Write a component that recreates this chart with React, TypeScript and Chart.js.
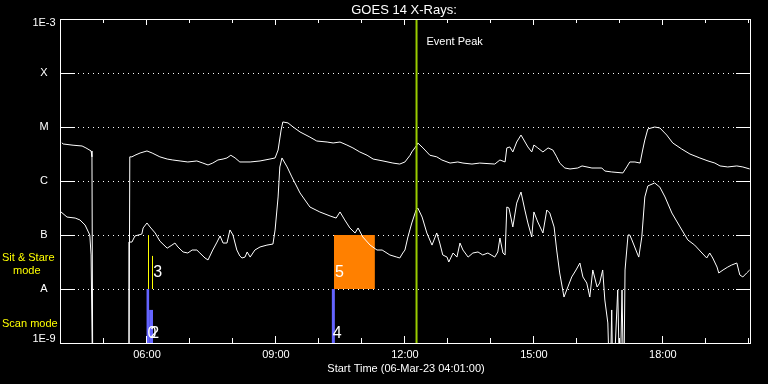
import { useEffect, useRef } from "react";
import { Chart, registerables } from "chart.js";
Chart.register(...registerables);

// [hour of 06-Mar-23, flux W/m^2]  (1e-10 = data gap / below scale)
const longChannel: [number, number][] = [
  [4.02, 5.1e-6], [4.05, 4.85e-6], [4.28, 4.6e-6], [4.49, 4.45e-6], [4.58, 4.1e-6], [4.70, 3.6e-6], [4.72, 2.8e-6],
  [4.74, 1e-10], [5.58, 1e-10], [5.60, 2.8e-6], [5.65, 2.8e-6], [5.72, 3.0e-6], [5.84, 3.3e-6], [6.00, 3.6e-6],
  [6.12, 3.3e-6], [6.30, 2.8e-6], [6.47, 2.55e-6], [6.60, 2.45e-6], [6.77, 2.35e-6], [6.95, 2.25e-6], [7.16, 2.35e-6],
  [7.30, 2.15e-6], [7.42, 1.98e-6], [7.53, 2.15e-6], [7.65, 2.45e-6], [7.77, 2.55e-6], [7.86, 2.67e-6], [7.95, 3.0e-6],
  [8.05, 2.67e-6], [8.16, 2.25e-6], [8.40, 2.25e-6], [8.63, 2.35e-6], [8.86, 2.55e-6], [8.98, 2.67e-6], [9.05, 3.75e-6],
  [9.12, 8.8e-6], [9.16, 1.24e-5], [9.28, 1.19e-5], [9.40, 1.0e-5], [9.56, 8.1e-6], [9.79, 6.5e-6], [9.95, 5.5e-6],
  [10.19, 5.27e-6], [10.33, 5.06e-6], [10.49, 5.27e-6], [10.65, 4.64e-6], [10.79, 4.1e-6], [10.95, 3.45e-6],
  [11.12, 3.0e-6], [11.26, 2.55e-6], [11.49, 2.35e-6], [11.72, 2.15e-6], [11.88, 2.06e-6], [12.00, 2.25e-6],
  [12.12, 3.0e-6], [12.16, 3.45e-6], [12.28, 4.64e-6], [12.30, 5.06e-6], [12.42, 4.1e-6], [12.58, 3.0e-6],
  [12.74, 2.8e-6], [12.86, 2.45e-6], [13.05, 2.15e-6], [13.23, 2.25e-6], [13.35, 2.15e-6], [13.56, 2.06e-6],
  [13.74, 2.15e-6], [14.09, 2.06e-6], [14.21, 2.45e-6], [14.33, 2.25e-6], [14.37, 4.1e-6], [14.44, 4.27e-6],
  [14.51, 3.45e-6], [14.60, 5.27e-6], [14.70, 7.1e-6], [14.74, 6.25e-6], [14.86, 4.27e-6], [14.95, 3.45e-6],
  [15.00, 4.64e-6], [15.09, 4.1e-6], [15.21, 3.45e-6], [15.33, 4.1e-6], [15.44, 3.75e-6], [15.53, 2.8e-6],
  [15.60, 2.15e-6], [15.72, 1.74e-6], [15.84, 1.67e-6], [16.02, 1.74e-6], [16.12, 1.9e-6], [16.35, 1.74e-6],
  [16.58, 1.74e-6], [16.65, 1.53e-6], [16.81, 1.47e-6], [17.07, 1.41e-6], [17.16, 1.82e-6], [17.23, 2.25e-6],
  [17.35, 2.25e-6], [17.47, 2.15e-6], [17.53, 3.75e-6], [17.58, 5.74e-6], [17.65, 9.2e-6], [17.81, 1.0e-5],
  [17.93, 9.6e-6], [18.09, 7.1e-6], [18.23, 5.06e-6], [18.44, 3.9e-6], [18.63, 3.16e-6], [18.86, 2.67e-6],
  [19.05, 2.35e-6], [19.21, 2.15e-6], [19.33, 1.9e-6], [19.51, 1.82e-6], [19.72, 1.9e-6], [19.86, 1.82e-6],
  [20.02, 1.67e-6],
];

const shortChannel: [number, number][] = [
  [4.00, 2.67e-7], [4.14, 2.15e-7], [4.33, 2.06e-7], [4.44, 1.9e-7], [4.56, 1.53e-7], [4.67, 1.0e-7], [4.70, 4.27e-8],
  [4.74, 1e-10], [5.56, 1e-10], [5.58, 7.4e-8], [5.65, 7.4e-8], [5.72, 9.6e-8], [5.88, 1.04e-7], [5.91, 1.35e-7],
  [6.00, 1.67e-7], [6.07, 1.41e-7], [6.19, 1.09e-7], [6.30, 7.7e-8], [6.47, 5.7e-8], [6.58, 6.5e-8], [6.65, 7.1e-8],
  [6.72, 6.0e-8], [6.84, 4.85e-8], [6.95, 4.64e-8], [7.05, 5.27e-8], [7.16, 5.27e-8], [7.23, 4.64e-8], [7.35, 3.75e-8],
  [7.42, 3.45e-8], [7.53, 5.27e-8], [7.63, 7.4e-8], [7.70, 9.6e-8], [7.77, 7.1e-8], [7.86, 7.1e-8], [7.93, 1.24e-7],
  [8.00, 1.0e-7], [8.09, 5.27e-8], [8.16, 4.09e-8], [8.21, 3.75e-8], [8.28, 3.9e-8], [8.33, 4.85e-8], [8.40, 3.9e-8],
  [8.51, 5.27e-8], [8.63, 6.0e-8], [8.79, 6.5e-8], [8.93, 6.8e-8], [8.98, 1.24e-7], [9.05, 5.06e-7], [9.09, 1.82e-6],
  [9.14, 2.67e-6], [9.26, 1.82e-6], [9.37, 1.19e-6], [9.56, 6.0e-7], [9.79, 3.3e-7], [10.02, 2.67e-7], [10.26, 2.25e-7],
  [10.40, 2.06e-7], [10.49, 2.67e-7], [10.60, 1.9e-7], [10.72, 1.35e-7], [10.84, 1.09e-7], [10.91, 1.35e-7],
  [11.02, 9.2e-8], [11.19, 6.5e-8], [11.35, 5.27e-8], [11.47, 5.27e-8], [11.65, 4.27e-8], [11.81, 3.9e-8],
  [11.88, 3.75e-8], [11.95, 4.64e-8], [12.00, 5.27e-8], [12.07, 9.2e-8], [12.16, 1.67e-7], [12.26, 2.9e-7],
  [12.30, 3.16e-7], [12.40, 2.15e-7], [12.51, 1.09e-7], [12.63, 6.5e-8], [12.74, 1.09e-7], [12.81, 7.1e-8],
  [12.88, 4.27e-8], [12.98, 3.9e-8], [13.02, 3.16e-8], [13.12, 4.64e-8], [13.21, 3.9e-8], [13.28, 7.1e-8],
  [13.35, 5.27e-8], [13.47, 3.9e-8], [13.58, 4.64e-8], [13.70, 4.85e-8], [13.81, 4.27e-8], [13.93, 4.64e-8],
  [14.09, 3.9e-8], [14.16, 4.85e-8], [14.21, 8.8e-8], [14.28, 4.64e-8], [14.33, 4.27e-8], [14.37, 3.3e-7],
  [14.42, 3.16e-7], [14.51, 1.41e-7], [14.60, 3.9e-7], [14.70, 6.25e-7], [14.79, 2.9e-7], [14.86, 1.67e-7],
  [14.95, 9.2e-8], [15.00, 2.67e-7], [15.09, 1.74e-7], [15.21, 1.09e-7], [15.30, 2.9e-7], [15.37, 2.55e-7],
  [15.47, 1.41e-7], [15.53, 5.27e-8], [15.60, 1.98e-8], [15.70, 7.1e-9], [15.79, 1.09e-8], [15.88, 1.67e-8],
  [15.98, 2.25e-8], [16.07, 3.03e-8], [16.14, 1.67e-8], [16.23, 1.29e-8], [16.30, 7.1e-9], [16.37, 2.25e-8],
  [16.47, 1.09e-8], [16.53, 1.29e-8], [16.60, 2.25e-8], [16.65, 6.25e-9], [16.72, 2.35e-9], [16.77, 1e-10],
  [16.81, 4.09e-9], [16.84, 1e-10], [16.95, 9.6e-9], [17.00, 1e-10], [17.05, 9.6e-9], [17.09, 1e-10],
  [17.12, 2.25e-8], [17.19, 1.0e-7], [17.23, 1.0e-7], [17.28, 8.1e-8], [17.40, 4.64e-8], [17.44, 3.9e-8],
  [17.51, 9.2e-8], [17.58, 5.06e-7], [17.65, 8.1e-7], [17.81, 9.2e-7], [17.93, 7.7e-7], [18.05, 5.06e-7],
  [18.21, 2.55e-7], [18.40, 1.41e-7], [18.58, 8.1e-8], [18.74, 6.5e-8], [18.91, 4.64e-8], [19.02, 3.75e-8],
  [19.09, 4.64e-8], [19.16, 3.75e-8], [19.26, 2.55e-8], [19.30, 1.98e-8], [19.40, 2.25e-8], [19.51, 2.55e-8],
  [19.60, 2.78e-8], [19.72, 3.03e-8], [19.79, 1.82e-8], [19.86, 1.67e-8], [19.95, 1.98e-8], [20.02, 2.25e-8],
];

const xMin = 4.0;
const xMax = 20.05;
const hourTicks = [5, 6, 7, 8, 9, 10, 11, 12, 13, 14, 15, 16, 17, 18, 19, 20];
const xLabelHours = [6, 9, 12, 15, 18];
const xLabels = ["06:00", "09:00", "12:00", "15:00", "18:00"];
const yTickValues = [1e-9, 1e-8, 1e-7, 1e-6, 1e-5, 1e-4, 1e-3];
const yTickLabels = ["1E-9", "A", "B", "C", "M", "X", "1E-3"];

const eventPeakHour = 12.27;

// Sit & Stare observations (between A and B levels)
const sitStart = [6.02, 6.12, 10.35];
const sitEnd = [6.02, 6.12, 11.30];
const sitTop = [1e-7, 4.1e-8, 1e-7];
const sitLabels = ["", "3", "5"];
// Scan observations (between 1E-9 and A levels)
const scanStart = [5.99, 6.05, 10.30];
const scanEnd = [6.05, 6.14, 10.37];
const scanTop = [1e-8, 4.1e-9, 1e-8];
const scanLabels = ["0", "2", "4"];

const FONT = '"Liberation Sans", Arial, sans-serif';

const decorPlugin = {
  id: "decor",
  beforeDraw(chart: any) {
    const { ctx, width, height } = chart;
    ctx.save();
    ctx.fillStyle = "#000";
    ctx.fillRect(0, 0, width, height);
    ctx.restore();
  },
  beforeDatasetsDraw(chart: any) {
    const { ctx, chartArea, scales } = chart;
    const { left, right } = chartArea;
    const x = scales.x;
    const y = scales.y;
    ctx.save();
    ctx.strokeStyle = "#fff";
    ctx.lineWidth = 1;
    yTickValues.forEach((v, i) => {
      if (i === 0 || i === yTickValues.length - 1) return;
      const py = Math.round(y.getPixelForValue(v)) + 0.5;
      ctx.setLineDash([]);
      ctx.beginPath();
      ctx.moveTo(left, py);
      ctx.lineTo(left + 14, py);
      ctx.moveTo(right - 15, py);
      ctx.lineTo(right, py);
      ctx.stroke();
      ctx.setLineDash([1, 4]);
      ctx.beginPath();
      ctx.moveTo(left + 17, py);
      ctx.lineTo(right - 15, py);
      ctx.stroke();
    });
    ctx.setLineDash([]);
    // sit & stare
    sitStart.forEach((s, i) => {
      const x0 = x.getPixelForValue(s);
      const x1 = x.getPixelForValue(sitEnd[i]);
      const yb = y.getPixelForValue(1e-8);
      const yt = y.getPixelForValue(sitTop[i]);
      if (x1 - x0 < 1) {
        ctx.strokeStyle = "#ffff00";
        ctx.lineWidth = 1;
        ctx.beginPath();
        ctx.moveTo(Math.round(x0) + 0.5, yb);
        ctx.lineTo(Math.round(x0) + 0.5, yt);
        ctx.stroke();
      } else {
        ctx.fillStyle = "#ff8000";
        ctx.fillRect(x0, yt, x1 - x0, yb - yt);
      }
    });
    // scans
    scanStart.forEach((s, i) => {
      const x0 = x.getPixelForValue(s);
      const x1 = x.getPixelForValue(scanEnd[i]);
      const yb = y.getPixelForValue(1e-9);
      const yt = y.getPixelForValue(scanTop[i]);
      ctx.fillStyle = "#6464ff";
      ctx.fillRect(x0, yt, x1 - x0, yb - yt);
    });
    ctx.restore();
  },
  afterDatasetsDraw(chart: any) {
    const { ctx, chartArea, scales } = chart;
    const { left, right, top, bottom } = chartArea;
    const x = scales.x;
    const y = scales.y;
    ctx.save();
    // event peak
    const px = x.getPixelForValue(eventPeakHour);
    ctx.strokeStyle = "#99cc00";
    ctx.lineWidth = 2;
    ctx.beginPath();
    ctx.moveTo(px, top);
    ctx.lineTo(px, bottom);
    ctx.stroke();
    // frame
    ctx.strokeStyle = "#fff";
    ctx.lineWidth = 1;
    ctx.strokeRect(left - 0.5, top + 0.5, right - left, bottom - top);
    // hour ticks
    hourTicks.forEach((h) => {
      const tx = Math.round(x.getPixelForValue(h)) - 0.5;
      const major = xLabelHours.includes(h);
      ctx.beginPath();
      ctx.moveTo(tx, bottom);
      ctx.lineTo(tx, bottom - (major ? 7 : 5));
      ctx.moveTo(tx, top);
      ctx.lineTo(tx, top + (major ? 6 : 4));
      ctx.stroke();
    });
    // labels on observations
    ctx.fillStyle = "#fff";
    ctx.font = `16px ${FONT}`;
    ctx.textAlign = "left";
    ctx.textBaseline = "middle";
    sitLabels.forEach((lab, i) => {
      if (!lab) return;
      ctx.fillText(lab, x.getPixelForValue(sitStart[i]) + 1, y.getPixelForValue(2e-8));
    });
    scanLabels.forEach((lab, i) => {
      if (!lab) return;
      ctx.fillText(lab, x.getPixelForValue(scanStart[i]) + 1, y.getPixelForValue(1.5e-9));
    });
    // y labels
    ctx.font = `11px ${FONT}`;
    ctx.textAlign = "center";
    yTickValues.forEach((v, i) => {
      let py = y.getPixelForValue(v);
      py = Math.min(Math.max(py, top + 4), bottom - 4);
      ctx.fillText(yTickLabels[i], 44, py);
    });
    // x labels
    xLabelHours.forEach((h, i) => {
      ctx.fillText(xLabels[i], x.getPixelForValue(h), bottom + 12);
    });
    const cx = (left + right) / 2;
    ctx.fillText("Start Time (06-Mar-23 04:01:00)", cx, bottom + 25.5);
    ctx.font = `13px ${FONT}`;
    ctx.fillText("GOES 14 X-Rays:", cx - 2, 10);
    ctx.font = `11px ${FONT}`;
    ctx.textAlign = "left";
    ctx.fillText("Event Peak", px + 10, top + 23);
    // mode labels
    ctx.fillStyle = "#ffff00";
    ctx.fillText("Sit & Stare", 2, 258);
    ctx.fillText("mode", 13, 271);
    ctx.fillText("Scan mode", 2, 323.5);
    ctx.restore();
  },
};

export default function App() {
  const ref = useRef<HTMLCanvasElement | null>(null);
  useEffect(() => {
    document.body.style.margin = "0";
    document.body.style.background = "#000";
    const canvas = ref.current;
    if (!canvas) return;
    const toPts = (arr: [number, number][]) => arr.map(([h, f]) => ({ x: h, y: f }));
    const chart = new Chart(canvas, {
      type: "line",
      data: {
        datasets: [
          { data: toPts(longChannel), borderColor: "#ffffff", borderWidth: 1, pointRadius: 0, tension: 0 },
          { data: toPts(shortChannel), borderColor: "#ffffff", borderWidth: 1, pointRadius: 0, tension: 0 },
        ],
      },
      options: {
        animation: false,
        responsive: false,
        maintainAspectRatio: false,
        devicePixelRatio: 1,
        layout: { padding: { left: 61, right: 17, top: 19, bottom: 41 } },
        plugins: { legend: { display: false }, tooltip: { enabled: false }, title: { display: false } },
        scales: {
          x: { type: "linear", min: xMin, max: xMax, display: false },
          y: { type: "logarithmic", min: 1e-9, max: 1e-3, display: false },
        },
      },
      plugins: [decorPlugin],
    } as any);
    return () => chart.destroy();
  }, []);
  return <canvas ref={ref} width={768} height={384} style={{ display: "block", width: 768, height: 384 }} />;
}
